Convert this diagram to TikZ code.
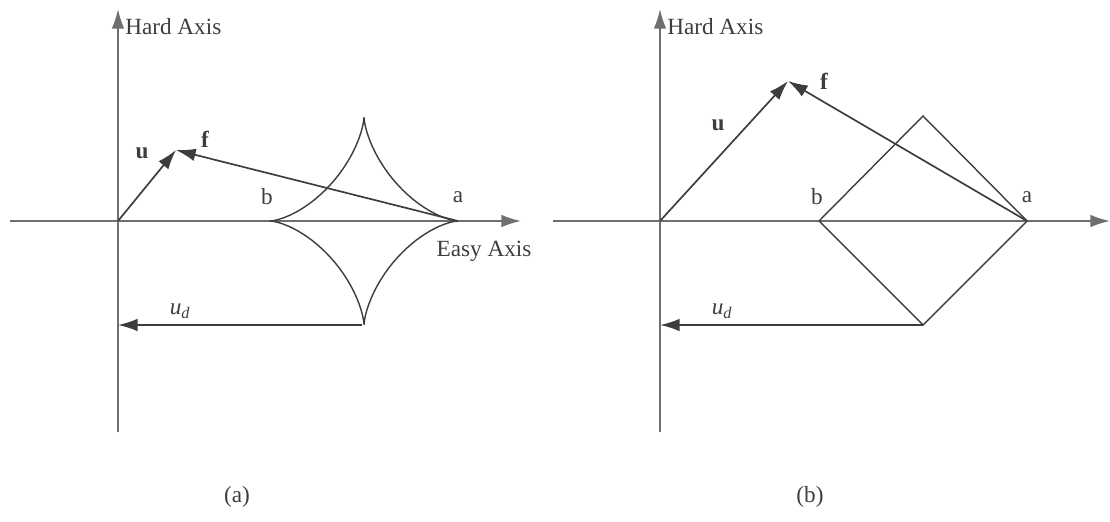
\documentclass[tikz,border=0pt]{standalone}
\usepackage{fontspec}
\setmainfont{Liberation Serif}
\usepackage{tikz}
\usetikzlibrary{arrows.meta, positioning}
\definecolor{axisgray}{RGB}{110, 112, 112}
\definecolor{linedark}{RGB}{60, 62, 62}
\tikzstyle{axis} = [line width=1.2pt, color=axisgray, -{Latex[length=14pt, width=9pt]}]
\tikzstyle{vec} = [line width=1.2pt, color=linedark, -{Latex[length=14pt, width=9pt]}]
\tikzstyle{curve} = [line width=1pt, color=linedark]
\tikzstyle{lbl} = [inner sep=0pt, font=\fontsize{16.5}{19}\selectfont, color=linedark]
\tikzstyle{bold} = [inner sep=0pt, font=\fontsize{16.5}{19}\selectfont\bfseries, color=linedark]

\begin{document}
\begin{tikzpicture}[x=0.025cm, y=-0.025cm]
    \useasboundingbox (0,0) rectangle (1110,521);

    % Panel (a): points
    \coordinate (oa) at (118,221);
    \coordinate (ya) at (118,432);
    \coordinate (yatip) at (118,9);
    \coordinate (xa) at (10,221);
    \coordinate (xatip) at (521,221);
    \coordinate (ua) at (176,150);
    \coordinate (aa) at (458,221);
    \coordinate (da) at (362,325);
    \coordinate (ya2) at (118,325);

    % Panel (a): axes and curve
    \draw [axis] (ya) -- (yatip);
    \draw [axis] (xa) -- (xatip);
    \draw [curve] plot[domain=0:360, samples=240, variable=\t]
        ({364+94*cos(\t)*cos(\t)*cos(\t)}, {221+104*sin(\t)*sin(\t)*sin(\t)});

    % Panel (a): labels
    \node (hardA) [lbl, anchor=west] at (125,27) {Hard Axis};
    \node (easyA) [lbl] at (484,251) {Easy Axis};
    \node (ulblA) [bold] at (142,153) {u};
    \node (flblA) [bold] at (205,139) {f};
    \node (blblA) [lbl] at (267,197) {b};
    \node (alblA) [lbl] at (458,197) {a};
    \node (udlblA) [lbl] at (180,311) {\itshape u\textsubscript{d}};
    \node (capA) [lbl] at (237,497) {(a)};

    % Panel (a): arrows
    \draw [vec] (oa) -- (ua);
    \draw [vec] (aa) -- (ua);
    \draw [vec] (da) -- (ya2);

    % Panel (b): points
    \coordinate (ob) at (660,221);
    \coordinate (yb) at (660,432);
    \coordinate (ybtip) at (660,9);
    \coordinate (xb) at (553,221);
    \coordinate (xbtip) at (1110,221);
    \coordinate (ub) at (788,81);
    \coordinate (ab) at (1027,221);
    \coordinate (bb) at (819,221);
    \coordinate (tb) at (923,116);
    \coordinate (db) at (923,325);
    \coordinate (yb2) at (660,325);

    % Panel (b): axes and diamond
    \draw [axis] (yb) -- (ybtip);
    \draw [axis] (xb) -- (xbtip);
    \draw [curve] (bb) -- (tb) -- (ab) -- (db) -- cycle;

    % Panel (b): labels
    \node (hardB) [lbl, anchor=west] at (667,27) {Hard Axis};
    \node (ulblB) [bold] at (718,125) {u};
    \node (flblB) [bold] at (824,81) {f};
    \node (blblB) [lbl] at (817,197) {b};
    \node (alblB) [lbl] at (1027,197) {a};
    \node (udlblB) [lbl] at (722,311) {\itshape u\textsubscript{d}};
    \node (capB) [lbl] at (810,497) {(b)};

    % Panel (b): arrows
    \draw [vec] (ob) -- (ub);
    \draw [vec] (ab) -- (ub);
    \draw [vec] (db) -- (yb2);
\end{tikzpicture}
\end{document}
